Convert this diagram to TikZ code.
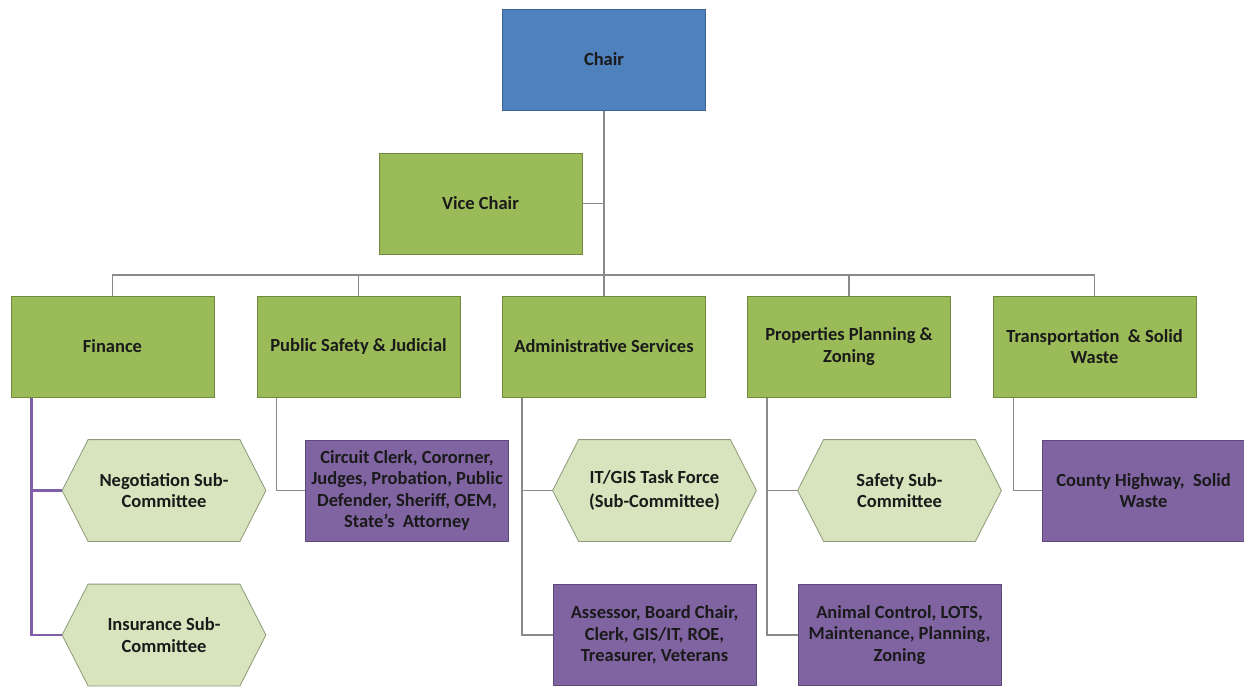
\documentclass[tikz,border=0pt]{standalone}
\usepackage{fontspec}
\setmainfont{Carlito}
\pgfdeclarelayer{background}
\pgfsetlayers{background,main}
\definecolor{chairblue}{HTML}{4F81BD}
\definecolor{chairedge}{HTML}{3A6596}
\definecolor{mygreen}{HTML}{9BBB59}
\definecolor{greenedge}{HTML}{6F8A3C}
\definecolor{lightgreen}{HTML}{D7E4BD}
\definecolor{hexedge}{HTML}{8C9A78}
\definecolor{mypurple}{HTML}{8064A2}
\definecolor{purpleedge}{HTML}{5E4A7A}
\definecolor{linegray}{HTML}{8A8A8A}
\definecolor{finline}{HTML}{7F5FA8}
\definecolor{txt}{HTML}{1A1A1A}
\tikzset{
  box/.style={rectangle, minimum width=203pt, minimum height=101pt, inner sep=0pt,
    align=center, font=\bfseries\fontsize{18.5}{21.5}\selectfont, text=txt, line width=0.8pt},
  chairbox/.style={box, fill=chairblue, draw=chairedge},
  greenbox/.style={box, fill=mygreen, draw=greenedge},
  purplebox/.style={box, fill=mypurple, draw=purpleedge},
  hexnode/.style={box},
  hexfill/.style={fill=lightgreen, draw=hexedge, line width=0.8pt},
  conn/.style={draw=linegray, line width=1.3pt},
  finconn/.style={draw=finline, line width=2.6pt},
}
\newcommand{\hexagonof}[1]{%
  \path[hexfill] ([xshift=26pt]#1.north west) -- ([xshift=-26pt]#1.north east) -- (#1.east)
    -- ([xshift=-26pt]#1.south east) -- ([xshift=26pt]#1.south west) -- (#1.west) -- cycle;}
\begin{document}
\begin{tikzpicture}[x=1pt,y=-1pt]
\useasboundingbox (0,0) rectangle (1244,686);
% top
\node[chairbox] (chair) at (604,59.5) {Chair};
\node[greenbox] (vice) at (480.5,203.5) {Vice Chair};
% second level
\node[greenbox] (fin) at (112.5,346.5) {Finance};
\node[greenbox] (ps) at (358.5,346.5) {Public Safety \& Judicial};
\node[greenbox] (adm) at (604,346.5) {Administrative Services};
\node[greenbox] (prop) at (849,346.5) {Properties Planning \&\\Zoning};
\node[greenbox] (trans) at (1094.5,346.5) {Transportation \ \& Solid\\Waste};
% third level
\node[hexnode] (neg) at (164,490.5) {Negotiation Sub-\\Committee};
\node[hexnode] (ins) at (164,635) {Insurance Sub-\\Committee};
\node[purplebox] (psb) at (407,490.5) {Circuit Clerk, Cororner,\\Judges, Probation, Public\\Defender, Sheriff, OEM,\\State's \ Attorney};
\node[hexnode] (itg) at (654.5,490.5) {IT/GIS Task Force\\[3pt](Sub-Committee)};
\node[purplebox] (admb) at (654.5,635) {Assessor, Board Chair,\\Clerk, GIS/IT, ROE,\\Treasurer, Veterans};
\node[hexnode] (saf) at (899.5,490.5) {Safety Sub-\\Committee};
\node[purplebox] (propb) at (899.5,635) {Animal Control, LOTS,\\Maintenance, Planning,\\Zoning};
\node[purplebox] (transb) at (1143.5,490.5) {County Highway, \ Solid\\Waste};
\coordinate (bus) at (604,275);
\begin{pgfonlayer}{background}
\fill[white] (0,0) rectangle (1244,686);
\hexagonof{neg}
\hexagonof{ins}
\hexagonof{itg}
\hexagonof{saf}
% connectors
\draw[conn] (chair.south) -- (adm.north);
\draw[conn] (vice.east) -- (vice.east -| chair.south);
\draw[conn] (fin.north) |- (bus) -| (trans.north);
\draw[conn] (ps.north) |- (bus);
\draw[conn] (prop.north) |- (bus);
\draw[finconn] ([xshift=21pt]fin.south west) |- (neg.west);
\draw[finconn] ([xshift=21pt]fin.south west) |- (ins.west);
\draw[conn] ([xshift=20pt]ps.south west) |- (psb.west);
\draw[conn] ([xshift=20pt]adm.south west) |- (itg.west);
\draw[conn] ([xshift=20pt]adm.south west) |- (admb.west);
\draw[conn] ([xshift=20pt]prop.south west) |- (saf.west);
\draw[conn] ([xshift=20pt]prop.south west) |- (propb.west);
\draw[conn] ([xshift=21pt]trans.south west) |- (transb.west);
\end{pgfonlayer}
\end{tikzpicture}
\end{document}
